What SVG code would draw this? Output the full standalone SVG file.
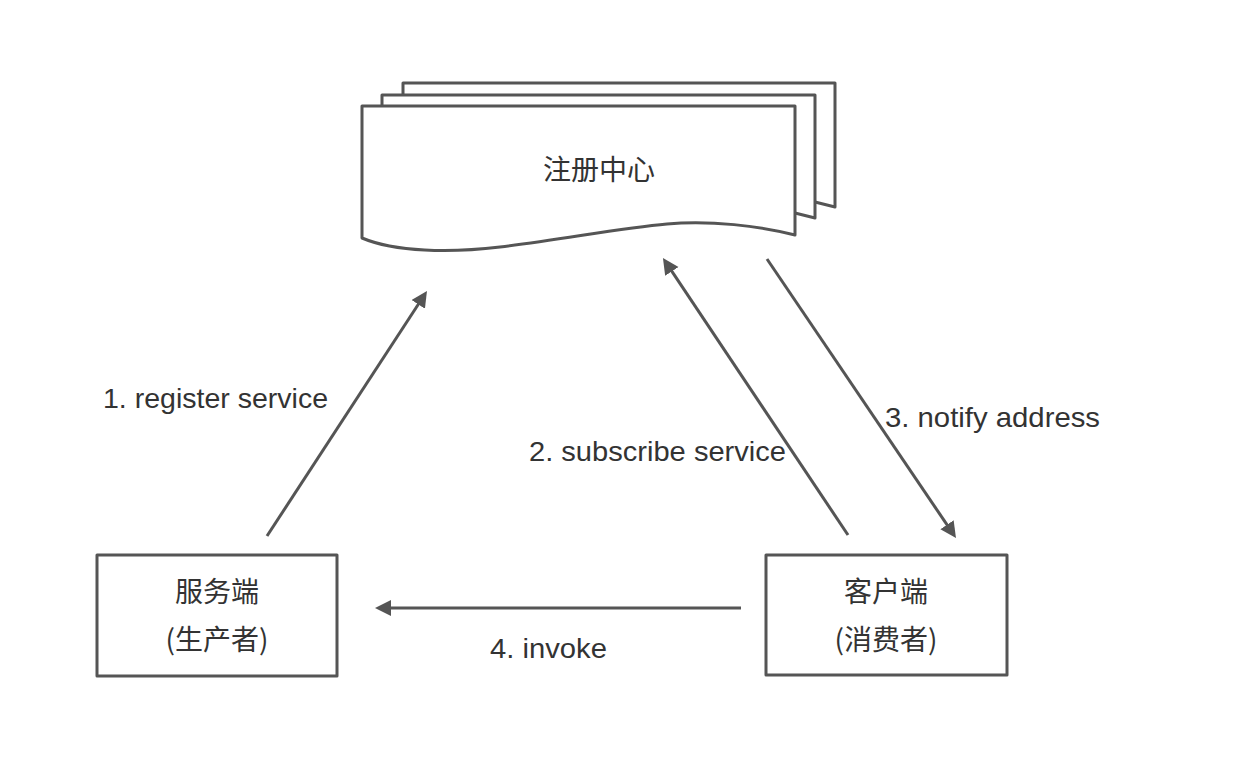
<svg xmlns="http://www.w3.org/2000/svg" width="1236" height="778" viewBox="0 0 1236 778">
<style>
.shape{fill:#fff;stroke:#555;stroke-width:3;stroke-linejoin:round}
.conn{stroke:#555;stroke-width:3;fill:none}
.cjk{font-family:"Noto Sans CJK SC","Noto Sans",sans-serif;font-size:28px;fill:#333;text-anchor:middle}
.lbl{font-family:"Liberation Sans",Arial,sans-serif;font-size:28px;fill:#333}
</style>
<defs>
<marker id="arr" markerUnits="userSpaceOnUse" markerWidth="18" markerHeight="18" viewBox="0 0 18 18" refX="8" refY="8" orient="auto">
<path d="M0,0 L16,8 L0,16 Z" fill="#555"/>
</marker>
</defs>
<rect width="1236" height="778" fill="#fff"/>
<g id="registry">
<path class="shape" d="M403,83 H835 V207 L815,202 L403,202 Z"/>
<path class="shape" d="M382,95 H815 V218 L795,213 L382,213 Z"/>
<path class="shape" d="M362,106 H795 V235 C760,226 710,220 667,224 C620,228 560,240 500,247 C450,253 395,252 362,238 Z"/>
<text class="cjk" x="599" y="180">注册中心</text>
</g>
<g id="provider">
<rect class="shape" x="97" y="555" width="240" height="121"/>
<text class="cjk" x="217" y="602">服务端</text>
<text class="cjk" x="217" y="650">(生产者)</text>
</g>
<g id="consumer">
<rect class="shape" x="766" y="555" width="241" height="120"/>
<text class="cjk" x="886" y="602">客户端</text>
<text class="cjk" x="886" y="650">(消费者)</text>
</g>
<g id="connectors">
<line class="conn" x1="267" y1="536" x2="422.6" y2="297.7" marker-end="url(#arr)"/>
<line class="conn" x1="848" y1="535" x2="667.4" y2="264.7" marker-end="url(#arr)"/>
<line class="conn" x1="767" y1="259" x2="951.5" y2="531.4" marker-end="url(#arr)"/>
<line class="conn" x1="741" y1="608" x2="383" y2="608" marker-end="url(#arr)"/>
<text class="lbl" x="103" y="408" textLength="225" lengthAdjust="spacingAndGlyphs">1. register service</text>
<text class="lbl" x="529" y="461" textLength="257" lengthAdjust="spacingAndGlyphs">2. subscribe service</text>
<text class="lbl" x="885" y="427" textLength="215" lengthAdjust="spacingAndGlyphs">3. notify address</text>
<text class="lbl" x="490" y="658" textLength="117" lengthAdjust="spacingAndGlyphs">4. invoke</text>
</g>
</svg>
